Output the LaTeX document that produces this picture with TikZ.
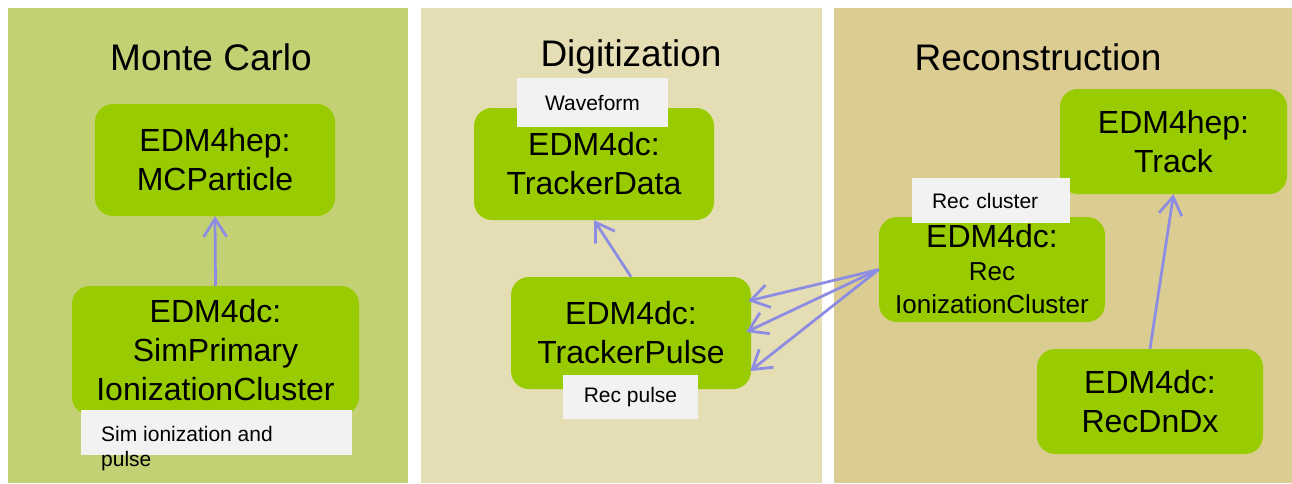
\documentclass[tikz,border=0pt]{standalone}
\usepackage{fontspec}
\setmainfont{Liberation Sans}
\usetikzlibrary{arrows.meta,calc}
\definecolor{mcbg}{HTML}{C3D174}
\definecolor{digbg}{HTML}{E5DDB3}
\definecolor{recbg}{HTML}{DBCC91}
\definecolor{boxgreen}{HTML}{99CC00}
\definecolor{lblgray}{HTML}{F2F2F2}
\definecolor{arrowblue}{HTML}{8C8CE3}
\begin{document}
\begin{tikzpicture}[x=1pt,y=-1pt,
  panel/.style={fill=#1, draw=none},
  databox/.style={fill=boxgreen, rounded corners=18pt, inner sep=0pt, align=center, font=\fontsize{32}{39}\selectfont},
  lbl/.style={fill=lblgray, inner sep=0pt, font=\fontsize{21}{25}\selectfont},
  title/.style={font=\fontsize{37}{44}\selectfont, anchor=base},
  link/.style={draw=arrowblue, line width=2.75pt, -{Straight Barb[length=18pt,width=23pt]}}
]
\useasboundingbox (0,0) rectangle (1292,483);
\fill[white] (0,0) rectangle (1292,483);
% panels
\fill[panel=mcbg] (8,8) rectangle (408,483);
\fill[panel=digbg] (421,8) rectangle (822,483);
\fill[panel=recbg] (834,8) rectangle (1292,483);
% titles
\node[title] (mctitle) at (211,70) {Monte Carlo};
\node[title] (digtitle) at (631,66) {Digitization};
\node[title] (rectitle) at (1038,70) {Reconstruction};
% data boxes
\node[databox, minimum width=240pt, minimum height=112pt] (mc) at (215,160) {EDM4hep:\\MCParticle};
\node[databox, minimum width=287pt, minimum height=129pt] (sim) at (215.5,350.5) {EDM4dc:\\SimPrimary\\IonizationCluster};
\node[databox, minimum width=240pt, minimum height=112pt] (data) at (594,164) {EDM4dc:\\TrackerData};
\node[databox, minimum width=240pt, minimum height=112pt] (pulse) at (631,333) {EDM4dc:\\TrackerPulse};
\node[databox, minimum width=227pt, minimum height=105pt] (track) at (1173.5,141.5) {EDM4hep:\\Track};
\node[databox, minimum width=226pt, minimum height=105pt, font=\fontsize{26}{33}\selectfont] (recclu) at (992,269.5) {{\fontsize{32}{39}\selectfont EDM4dc:}\\Rec\\IonizationCluster};
\node[databox, minimum width=226pt, minimum height=105pt] (dndx) at (1150,401.5) {EDM4dc:\\RecDnDx};
% labels
\node[lbl, minimum width=151pt, minimum height=49pt] (wave) at (592.5,102.5) {Waveform};
\node[lbl, minimum width=135pt, minimum height=44pt] (recpulse) at (630.5,397) {Rec pulse};
\node[lbl, minimum height=45pt, text width=118pt, inner xsep=20pt, align=left] (reccl) at (991,200.5) {Rec cluster};
\node[lbl, minimum width=271pt, minimum height=45pt] (simlbl) at (216.5,432.5) {};
\node[anchor=base west, inner sep=0pt, align=left, font=\fontsize{21}{25}\selectfont] (simtxt) at (101,466) {Sim ionization and\\pulse};
% connectors
\draw[link] (sim.north) -- (mc.south);
\draw[link] (pulse.north) -- (data.south);
\draw[link] (recclu.west) -- ([xshift=-3pt,yshift=32pt]pulse.east);
\draw[link] (recclu.west) -- ([xshift=-5pt,yshift=1pt]pulse.east);
\draw[link] (recclu.west) -- ([xshift=-1pt,yshift=-38pt]pulse.east);
\draw[link] (dndx.north) -- (track.south);
\end{tikzpicture}
\end{document}
